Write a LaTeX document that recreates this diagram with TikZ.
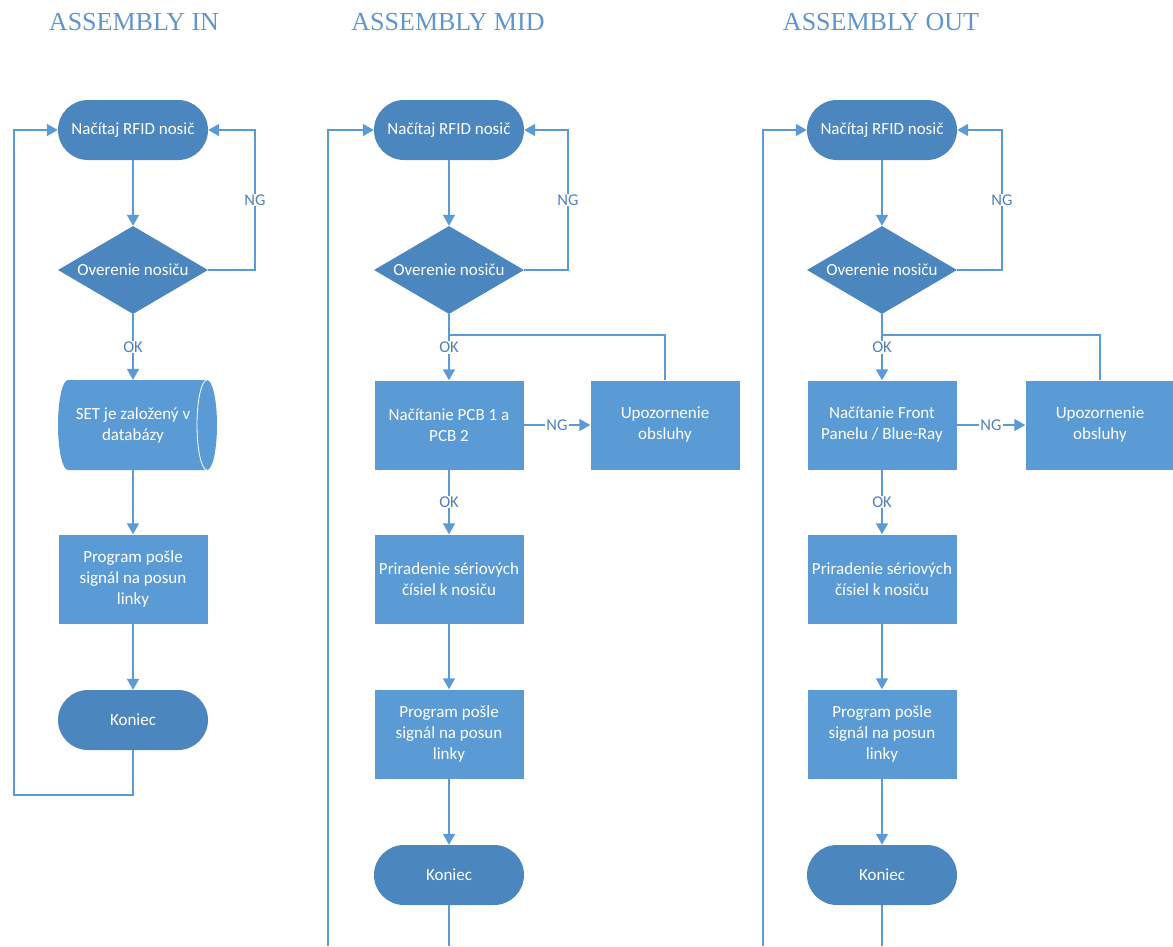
\documentclass[tikz,border=0pt]{standalone}
\usepackage{fontspec}
\setmainfont{Carlito}
\newfontfamily\titlefont{Liberation Serif}
\usetikzlibrary{shapes.geometric,arrows.meta}
\definecolor{lineblue}{RGB}{91,155,213}
\definecolor{procblue}{RGB}{91,155,213}
\definecolor{termblue}{RGB}{76,134,190}
\definecolor{lblblue}{RGB}{79,129,189}
\definecolor{titleblue}{RGB}{95,150,205}
\begin{document}
\begin{tikzpicture}[x=1pt,y=1pt,
 font=\fontsize{17}{21}\selectfont,
 term/.style={rectangle, rounded corners=30pt, fill=termblue, text=white, minimum width=150pt, minimum height=60pt, inner sep=0pt},
 proc/.style={rectangle, fill=procblue, text=white, minimum width=149pt, minimum height=89pt, align=center, inner sep=0pt},
 dec/.style={diamond, fill=termblue, text=white, minimum width=150pt, minimum height=88pt, aspect=1.7, inner sep=0pt},
 dbnode/.style={rectangle, text=white, minimum width=150pt, minimum height=90pt, align=center, inner sep=0pt},
 conn/.style={draw=lineblue, line width=1.6pt},
 arr/.style={conn, -{Triangle[width=12pt,length=11pt]}},
 lbl/.style={fill=white, text=lblblue, inner sep=1pt, font=\fontsize{16.5}{19}\selectfont},
 ttl/.style={text=titleblue, font=\titlefont\fontsize{26}{30}\selectfont}
]
\useasboundingbox (0,0) rectangle (1173,-946);

% ---------- titles
\node[ttl] (t1) at (134,-22) {ASSEMBLY IN};
\node[ttl] (t2) at (448,-22) {ASSEMBLY MID};
\node[ttl] (t3) at (881,-22) {ASSEMBLY OUT};

% ---------- column 1
\node[term] (s1) at (133,-130) {Načítaj RFID nosič};
\node[dec] (d1) at (133,-270) {Overenie nosiču};
\fill[procblue] (68,-380) -- (207,-380) arc[start angle=90,end angle=-90,x radius=10pt,y radius=45pt] -- (68,-470) arc[start angle=270,end angle=90,x radius=10pt,y radius=45pt] -- cycle;
\draw[white, line width=0.8pt] (207,-380) arc[start angle=90,end angle=270,x radius=10pt,y radius=45pt];
\node[dbnode] (db1) at (133,-425) {SET je založený v\\databázy};
\node[proc] (p1) at (133,-579) {Program pošle\\signál na posun\\linky};
\node[term] (e1) at (133,-720) {Koniec};
\coordinate (r1) at (255,-270);
\coordinate (b1) at (133,-795);
\coordinate (l1) at (14,-795);

\draw[arr] (s1) -- (d1);
\draw[arr] (d1.east) -- (r1) |- node[lbl,pos=0.25]{NG} (s1.east);
\draw[arr] (d1) -- node[lbl]{OK} (db1);
\draw[arr] (db1) -- (p1);
\draw[arr] (p1) -- (e1);
\draw[arr] (e1.south) -- (b1) -- (l1) |- (s1.west);

% ---------- column 2
\node[term] (s2) at (449,-130) {Načítaj RFID nosič};
\node[dec] (d2) at (449,-270) {Overenie nosiču};
\node[proc] (a2) at (449,-425) {Načítanie PCB 1 a\\PCB 2};
\node[proc] (u2) at (665,-425) {Upozornenie\\obsluhy};
\node[proc] (q2) at (449,-579) {Priradenie sériových\\čísiel k nosiču};
\node[proc] (p2) at (449,-734) {Program pošle\\signál na posun\\linky};
\node[term] (e2) at (449,-875) {Koniec};
\coordinate (r2) at (568,-270);
\coordinate (j2) at (449,-335);
\coordinate (b2) at (449,-946);
\coordinate (l2) at (328,-946);

\draw[arr] (s2) -- (d2);
\draw[arr] (d2.east) -- (r2) |- node[lbl,pos=0.25]{NG} (s2.east);
\draw[conn] (u2.north) |- (j2);
\draw[arr] (d2) -- node[lbl]{OK} (a2);
\draw[arr] (a2) -- node[lbl]{NG} (u2);
\draw[arr] (a2) -- node[lbl]{OK} (q2);
\draw[arr] (q2) -- (p2);
\draw[arr] (p2) -- (e2);
\draw[conn] (e2.south) -- (b2);
\draw[arr] (l2) |- (s2.west);

% ---------- column 3
\node[term] (s3) at (882,-130) {Načítaj RFID nosič};
\node[dec] (d3) at (882,-270) {Overenie nosiču};
\node[proc] (a3) at (882,-425) {Načítanie Front\\Panelu / Blue-Ray};
\node[proc] (u3) at (1100,-425) {Upozornenie\\obsluhy};
\node[proc] (q3) at (882,-579) {Priradenie sériových\\čísiel k nosiču};
\node[proc] (p3) at (882,-734) {Program pošle\\signál na posun\\linky};
\node[term] (e3) at (882,-875) {Koniec};
\coordinate (r3) at (1002,-270);
\coordinate (j3) at (882,-335);
\coordinate (b3) at (882,-946);
\coordinate (l3) at (763,-946);

\draw[arr] (s3) -- (d3);
\draw[arr] (d3.east) -- (r3) |- node[lbl,pos=0.25]{NG} (s3.east);
\draw[conn] (u3.north) |- (j3);
\draw[arr] (d3) -- node[lbl]{OK} (a3);
\draw[arr] (a3) -- node[lbl]{NG} (u3);
\draw[arr] (a3) -- node[lbl]{OK} (q3);
\draw[arr] (q3) -- (p3);
\draw[arr] (p3) -- (e3);
\draw[conn] (e3.south) -- (b3);
\draw[arr] (l3) |- (s3.west);
\end{tikzpicture}
\end{document}
